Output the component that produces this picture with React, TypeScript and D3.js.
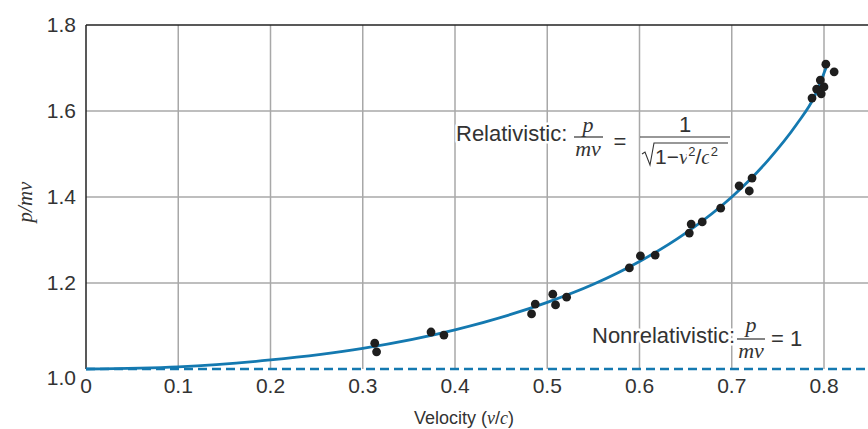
import React from 'react';
import * as d3 from 'd3';

// measured data points (v/c, p/mv)
const pointV = [0.313, 0.315, 0.374, 0.388, 0.483, 0.487, 0.506, 0.509, 0.521, 0.589, 0.601, 0.617, 0.654, 0.656, 0.668, 0.688, 0.708, 0.719, 0.722, 0.787, 0.792, 0.797, 0.8, 0.796, 0.802, 0.811];
const pointP = [1.06, 1.04, 1.086, 1.079, 1.128, 1.151, 1.174, 1.149, 1.167, 1.235, 1.263, 1.265, 1.316, 1.337, 1.342, 1.374, 1.426, 1.414, 1.444, 1.63, 1.651, 1.64, 1.656, 1.672, 1.709, 1.691];

// relativistic curve
const curveV = [0, 0.1, 0.2, 0.3, 0.4, 0.5, 0.55, 0.6, 0.65, 0.7, 0.74, 0.77, 0.79, 0.803];
const curveP = [1.0, 1.005, 1.021, 1.048, 1.091, 1.155, 1.197, 1.25, 1.316, 1.4, 1.487, 1.568, 1.635, 1.705];

const xTicks = [0, 0.1, 0.2, 0.3, 0.4, 0.5, 0.6, 0.7, 0.8];
const yTicks = [1.0, 1.2, 1.4, 1.6, 1.8];

const W = 868;
const H = 429;
const left = 86;
const top = 25;
const bottom = 369;

const blue = '#1479b0';
const grid = '#a8a8a8';
const ink = '#333';
const sans = '"Liberation Sans", Arial, sans-serif';
const serif = '"Liberation Serif", "Times New Roman", serif';

// white halo so gridlines break around the annotation glyphs
const halo = { stroke: '#fff', strokeWidth: 5, paintOrder: 'stroke' as const, strokeLinejoin: 'round' as const };

export default function App() {
  const x = d3.scaleLinear().domain([0, 0.8]).range([left, 824]);
  const y = d3.scaleLinear().domain([1.0, 1.8]).range([bottom, top]);

  const line = d3
    .line<number>()
    .x((d, i) => x(curveV[i]))
    .y(d => y(d))
    .curve(d3.curveMonotoneX);

  return (
    <svg width={W} height={H} style={{ position: 'absolute', left: 0, top: 0, background: '#fff' }}>
      {/* grid */}
      {xTicks.slice(1).map(t => (
        <line key={'gx' + t} x1={x(t)} x2={x(t)} y1={top} y2={bottom} stroke={grid} strokeWidth={1.5} />
      ))}
      {yTicks.slice(1, -1).map(t => (
        <line key={'gy' + t} x1={left} x2={W} y1={y(t)} y2={y(t)} stroke={grid} strokeWidth={1.5} />
      ))}
      {/* frame */}
      <line x1={left} x2={W} y1={top} y2={top} stroke="#222" strokeWidth={1.5} />
      <line x1={left} x2={left} y1={top} y2={bottom} stroke="#222" strokeWidth={1.5} />

      {/* annotations (under the curve) */}
      <g fill={ink} style={halo}>
        <text x={456} y={141} fontFamily={sans} fontSize={22}>Relativistic:</text>
        <text x={588} y={132} textAnchor="middle" fontFamily={serif} fontStyle="italic" fontSize={22}>p</text>
        <text x={588} y={156} textAnchor="middle" fontFamily={serif} fontStyle="italic" fontSize={22}>mv</text>
        <text x={620} y={149} textAnchor="middle" fontFamily={sans} fontSize={22}>=</text>
        <text x={685} y={132} textAnchor="middle" fontFamily={sans} fontSize={22}>1</text>
        <text x={655} y={164} fontFamily={sans} fontSize={21}>
          1−<tspan fontFamily={serif} fontStyle="italic">v</tspan>
          <tspan fontSize={13} dy={-8}>2</tspan>
          <tspan dy={8}>/</tspan>
          <tspan fontFamily={serif} fontStyle="italic">c</tspan>
          <tspan fontSize={13} dy={-8}>2</tspan>
        </text>

        <text x={592} y={343} fontFamily={sans} fontSize={22}>Nonrelativistic:</text>
        <text x={751} y={332} textAnchor="middle" fontFamily={serif} fontStyle="italic" fontSize={22}>p</text>
        <text x={751} y={358} textAnchor="middle" fontFamily={serif} fontStyle="italic" fontSize={22}>mv</text>
        <text x={771} y={346} fontFamily={sans} fontSize={22}>= 1</text>
      </g>
      <line x1={574} x2={603} y1={137} y2={137} stroke={ink} strokeWidth={1.2} />
      <line x1={640} x2={730} y1={137} y2={137} stroke={ink} strokeWidth={1.2} />
      <path d="M642,154 L645,152 L650,165 L654,143 L728,143" fill="none" stroke={ink} strokeWidth={1.1} />
      <line x1={737} x2={765} y1={339} y2={339} stroke={ink} strokeWidth={1.2} />

      {/* nonrelativistic */}
      <line x1={left} x2={W} y1={y(1)} y2={y(1)} stroke={blue} strokeWidth={2.6} strokeDasharray="9,5" />
      {/* relativistic */}
      <path d={line(curveP) || ''} fill="none" stroke={blue} strokeWidth={2.8} />

      {pointV.map((v, i) => (
        <circle key={'p' + i} cx={x(v)} cy={y(pointP[i])} r={4.4} fill="#1e1e1e" />
      ))}

      {/* tick labels */}
      {yTicks.map(t => (
        <text key={'yl' + t} x={76} y={y(t) + (t === 1 ? 16 : 7)} textAnchor="end" fontFamily={sans} fontSize={21} fill={ink}>
          {t.toFixed(1)}
        </text>
      ))}
      {xTicks.map(t => (
        <text key={'xl' + t} x={x(t)} y={393} textAnchor="middle" fontFamily={sans} fontSize={21} fill={ink}>
          {t === 0 ? '0' : t.toFixed(1)}
        </text>
      ))}

      {/* axis titles */}
      <text x={464} y={424} textAnchor="middle" fontFamily={sans} fontSize={18} fill={ink}>
        Velocity (<tspan fontFamily={serif} fontStyle="italic">v</tspan>/<tspan fontFamily={serif} fontStyle="italic">c</tspan>)
      </text>
      <text transform="translate(32,202) rotate(-90)" textAnchor="middle" fontFamily={serif} fontStyle="italic" fontSize={21} fill={ink}>
        p/mv
      </text>
    </svg>
  );
}
